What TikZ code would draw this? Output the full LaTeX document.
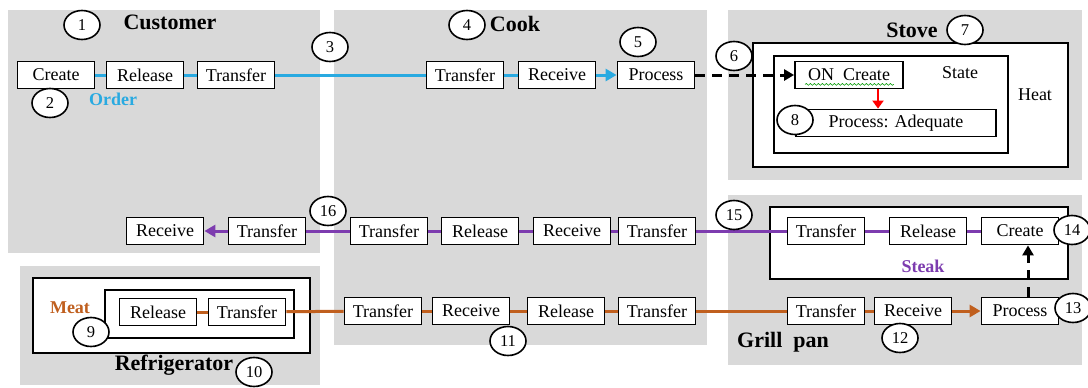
\documentclass[tikz,border=0pt]{standalone}
\usepackage{fontspec}
\setmainfont{Liberation Serif}
\usetikzlibrary{shapes.geometric,arrows.meta,positioning,decorations.pathmorphing}

\definecolor{bggray}{RGB}{217,217,217}
\definecolor{ordercyan}{RGB}{41,170,225}
\definecolor{steakpurple}{RGB}{125,60,175}
\definecolor{meatbrown}{RGB}{192,95,30}

\begin{document}
\begin{tikzpicture}[x=1pt, y=-1pt,
    area/.style={fill=bggray, draw=none},
    frame/.style={draw, line width=1.8pt, fill=white},
    act/.style={rectangle, draw, line width=1.8pt, fill=white, minimum width=77pt, minimum height=27pt, inner sep=1pt, font=\fontsize{18}{20}\selectfont},
    num/.style={ellipse, draw, line width=1.6pt, fill=white, minimum width=36pt, minimum height=29pt, inner sep=0pt, font=\fontsize{16.5}{18}\selectfont},
    title/.style={font=\fontsize{22}{24}\selectfont\bfseries},
    plain/.style={font=\fontsize{18}{20}\selectfont},
    order/.style={line width=3pt, ordercyan},
    steak/.style={line width=3pt, steakpurple},
    meat/.style={line width=3pt, meatbrown},
    tip/.style={-{Triangle[length=11pt,width=12pt]}},
    trigger/.style={line width=3pt, dash pattern=on 10pt off 7pt, -{Triangle[length=10pt,width=11pt]}}
]
\useasboundingbox (0,0) rectangle (1088,388);

% Swimlanes
\fill[area] (8,10) rectangle (320,253);
\fill[area] (334,10) rectangle (707,345);
\fill[area] (728,10) rectangle (1082,180);
\fill[area] (20,266) rectangle (320,385);
\fill[area] (728,195) rectangle (1082,365);

\node[title] (customer) at (170,22) {Customer};
\node[title] (cook) at (515,24) {Cook};
\node[title] (stove) at (912,30) {Stove};
\node[title] (fridge) at (174,365) {Refrigerator};
\node[title] (grill) at (783,342) {Grill\ \ pan};

% Object frames
\draw[frame] (753,43) rectangle (1068,167);
\draw[frame] (774,56) rectangle (1008,153);
\draw[frame] (770,207) rectangle (1068,279);
\draw[frame] (33,278) rectangle (310,353);
\draw[frame] (105,290) rectangle (294,338);

\node[plain] (heat) at (1035,95) {Heat};
\node[plain] (state) at (960,73) {State};
\node[plain, font=\fontsize{18}{20}\selectfont\bfseries, ordercyan] (order) at (113,99) {Order};
\node[plain, font=\fontsize{18}{20}\selectfont\bfseries, steakpurple] (steakname) at (923,266) {Steak};
\node[plain, font=\fontsize{18}{20}\selectfont\bfseries, meatbrown] (meatname) at (70,308) {Meat};

% Order flow
\node[act] (custCreate) at (56,75) {Create};
\node[act] (custRelease) at (145,75) {Release};
\node[act] (custTransfer) at (236,75) {Transfer};
\node[act] (cookTransferA) at (465,75) {Transfer};
\node[act] (cookReceiveA) at (557,75) {Receive};
\node[act] (cookProcess) at (656,75) {Process};

% Stove
\node[act, minimum width=108pt] (onCreate) at (849,75) {ON\ \ Create};
\node[act, minimum width=200pt] (adequate) at (896,123) {Process: Adequate};
\draw[green!60!black, line width=0.6pt, decorate, decoration={snake, amplitude=0.9pt, segment length=4pt}]
    ([shift={(11,-5)}]onCreate.south west) -- ([shift={(-10,-5)}]onCreate.south east);

% Steak flow
\node[act] (custReceive) at (165,231) {Receive};
\node[act] (custTransferB) at (267,231) {Transfer};
\node[act] (cookTransferB) at (389,231) {Transfer};
\node[act] (cookReleaseB) at (480,231) {Release};
\node[act] (cookReceiveB) at (572,231) {Receive};
\node[act] (cookTransferC) at (657,231) {Transfer};
\node[act] (panTransfer) at (826,231) {Transfer};
\node[act] (panRelease) at (928,231) {Release};
\node[act] (panCreate) at (1020,231) {Create};

% Meat flow
\node[act] (fridgeRelease) at (158,312) {Release};
\node[act] (fridgeTransfer) at (247,312) {Transfer};
\node[act] (cookTransferD) at (383,311) {Transfer};
\node[act] (cookReceiveD) at (471,311) {Receive};
\node[act] (cookReleaseD) at (566,311) {Release};
\node[act] (cookTransferE) at (657,311) {Transfer};
\node[act] (panTransferB) at (826,311) {Transfer};
\node[act] (panReceive) at (913,311) {Receive};
\node[act] (panProcess) at (1020,311) {Process};

% Connectors
\draw[order] (custCreate) -- (custRelease);
\draw[order] (custRelease) -- (custTransfer);
\draw[order] (custTransfer) -- (cookTransferA);
\draw[order] (cookTransferA) -- (cookReceiveA);
\draw[order, tip] (cookReceiveA) -- (cookProcess);
\draw[trigger] (cookProcess) -- (onCreate);
\draw[line width=2.5pt, red, -{Triangle[length=8pt,width=11pt]}] ([xshift=29pt]onCreate.south) -- ([xshift=29pt]onCreate.south |- adequate.north);

\draw[steak] (panCreate) -- (panRelease);
\draw[steak] (panRelease) -- (panTransfer);
\draw[steak] (panTransfer) -- (cookTransferC);
\draw[steak] (cookTransferC) -- (cookReceiveB);
\draw[steak] (cookReceiveB) -- (cookReleaseB);
\draw[steak] (cookReleaseB) -- (cookTransferB);
\draw[steak] (cookTransferB) -- (custTransferB);
\draw[steak, tip] (custTransferB) -- (custReceive);

\draw[meat] (fridgeRelease) -- (fridgeTransfer);
\draw[meat] (fridgeTransfer) -- (cookTransferD);
\draw[meat] (cookTransferD) -- (cookReceiveD);
\draw[meat] (cookReceiveD) -- (cookReleaseD);
\draw[meat] (cookReleaseD) -- (cookTransferE);
\draw[meat] (cookTransferE) -- (panTransferB);
\draw[meat] (panTransferB) -- (panReceive);
\draw[meat, tip] (panReceive) -- (panProcess);
\draw[trigger] ([xshift=8pt]panProcess.north) -- ([xshift=8pt]panCreate.south);

% Step numbers
\node[num] (n1) at (82,25) {1};
\node[num] (n2) at (50,103) {2};
\node[num] (n3) at (330,47) {3};
\node[num] (n4) at (467,25) {4};
\node[num] (n5) at (638,42) {5};
\node[num] (n6) at (734,56) {6};
\node[num] (n7) at (965,30) {7};
\node[num] (n8) at (795,120) {8};
\node[num] (n9) at (91,332) {9};
\node[num] (n10) at (254,372) {10};
\node[num] (n11) at (508,341) {11};
\node[num] (n12) at (900,338) {12};
\node[num] (n13) at (1073,308) {13};
\node[num] (n14) at (1072,230) {14};
\node[num] (n15) at (734,215) {15};
\node[num] (n16) at (328,211) {16};

\end{tikzpicture}
\end{document}
